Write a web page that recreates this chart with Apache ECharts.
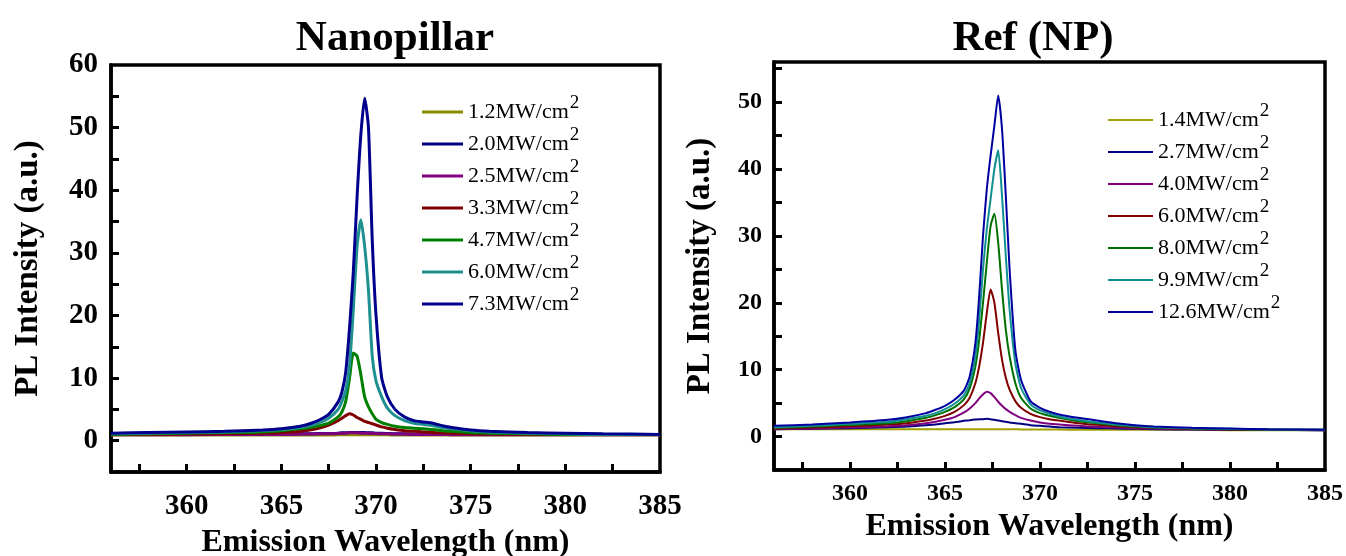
<!DOCTYPE html>
<html>
<head>
<meta charset="utf-8">
<title>PL spectra</title>
<script src="https://cdn.jsdelivr.net/npm/echarts@6.0.0/dist/echarts.min.js"></script>
<style>
  html, body { margin: 0; padding: 0; background: #fff; }
  #chart { width: 1346px; height: 556px; }
</style>
</head>
<body>
<div id="chart"></div>
<script>
// wavelengths (nm)
const npWl = [356, 358, 360, 362, 364, 365, 366, 366.5, 367, 367.5,
  368, 368.2, 368.4, 368.6, 368.8, 369.0, 369.2, 369.4, 369.6, 369.8,
  370.0, 370.3, 370.6, 371, 371.5, 372, 372.5, 373, 373.5, 374,
  375, 376, 378, 380, 382, 385];

// excitation power densities (MW/cm2)
const npPower = ['1.2', '2.0', '2.5', '3.3', '4.7', '6.0', '7.3'];

const np12 = [0.9, 0.9, 0.9, 0.9, 0.9, 0.9, 0.9, 0.9, 0.9, 0.9,
  0.95, 0.95, 0.95, 0.95, 0.95, 0.95, 0.95, 0.95, 0.95, 0.95,
  0.95, 0.95, 0.95, 0.9, 0.9, 0.9, 0.9, 0.9, 0.9, 0.9,
  0.9, 0.9, 0.9, 0.9, 0.9, 0.9];
const np20 = [1.0, 1.0, 1.0, 1.05, 1.05, 1.05, 1.1, 1.1, 1.15, 1.15,
  1.2, 1.25, 1.25, 1.3, 1.3, 1.3, 1.3, 1.3, 1.25, 1.25,
  1.2, 1.2, 1.15, 1.1, 1.1, 1.05, 1.05, 1.05, 1.0, 1.0,
  1.0, 1.0, 1.0, 1.0, 1.0, 1.0];
const np25 = [0.95, 0.95, 0.95, 1.0, 1.0, 1.0, 1.05, 1.05, 1.1, 1.1,
  1.15, 1.2, 1.2, 1.25, 1.25, 1.25, 1.2, 1.2, 1.2, 1.15,
  1.15, 1.1, 1.1, 1.05, 1.05, 1.0, 1.0, 1.0, 1.0, 0.95,
  0.95, 0.95, 0.95, 0.95, 0.95, 0.95];
const np33 = [1.0, 1.0, 1.05, 1.1, 1.2, 1.3, 1.5, 1.7, 2.0, 2.5,
  3.2, 3.6, 4.0, 4.3, 4.1, 3.7, 3.4, 3.1, 2.9, 2.7,
  2.5, 2.2, 2.0, 1.8, 1.6, 1.5, 1.4, 1.3, 1.25, 1.2,
  1.1, 1.05, 1.0, 1.0, 1.0, 1.0];
const np47 = [1.0, 1.1, 1.2, 1.3, 1.4, 1.6, 1.9, 2.1, 2.4, 2.8,
  3.8, 4.6, 6.3, 10, 14, 13.5, 10.5, 7, 5.4, 4.3,
  3.4, 2.9, 2.6, 2.3, 2.1, 2.0, 1.9, 1.8, 1.6, 1.5,
  1.3, 1.2, 1.1, 1.0, 1.0, 1.0];
const np60 = [1.1, 1.2, 1.3, 1.4, 1.6, 1.8, 2.1, 2.4, 2.9, 3.6,
  5, 6.3, 8, 12, 21, 31, 35.3, 31, 24, 13.5,
  9.5, 7, 5.2, 4.0, 3.2, 2.8, 2.6, 2.4, 2.1, 1.9,
  1.6, 1.4, 1.2, 1.1, 1.0, 1.0];
const np73 = [1.2, 1.3, 1.4, 1.5, 1.7, 1.9, 2.3, 2.7, 3.3, 4.2,
  6.2, 7.8, 11, 18, 27, 39, 49, 54.7, 50, 32,
  20, 10, 7, 5, 3.8, 3.2, 3.0, 2.8, 2.4, 2.1,
  1.7, 1.5, 1.3, 1.2, 1.1, 1.0];
const npSeries = [np12, np20, np25, np33, np47, np60, np73];

// wavelengths (nm)
const refWl = [356, 358, 360, 362, 363, 364, 364.5, 365, 365.5, 366,
  366.3, 366.6, 366.8, 367.0, 367.2, 367.4, 367.6, 367.8, 368.0, 368.2,
  368.4, 368.7, 369.0, 369.5, 370, 370.5, 371, 372, 373, 374,
  375, 376, 378, 380, 382, 385];

const refPower = ['1.4', '2.7', '4.0', '6.0', '8.0', '9.9', '12.6'];

const ref14 = [1.1, 1.1, 1.1, 1.1, 1.1, 1.1, 1.1, 1.1, 1.1, 1.1,
  1.1, 1.1, 1.1, 1.1, 1.1, 1.1, 1.1, 1.1, 1.1, 1.1,
  1.1, 1.1, 1.05, 1.05, 1.05, 1.05, 1.05, 1.0, 1.0, 1.0,
  1.0, 1.0, 1.0, 0.95, 0.95, 0.95];
const ref27 = [1.1, 1.15, 1.25, 1.4, 1.5, 1.7, 1.8, 2.0, 2.15, 2.35,
  2.45, 2.55, 2.6, 2.6, 2.65, 2.6, 2.5, 2.4, 2.3, 2.2,
  2.1, 2.0, 1.9, 1.7, 1.6, 1.5, 1.4, 1.3, 1.25, 1.2,
  1.15, 1.1, 1.05, 1.0, 1.0, 0.95];
const ref40 = [1.1, 1.2, 1.35, 1.55, 1.7, 2.0, 2.2, 2.5, 2.9, 3.6,
  4.2, 5.0, 5.7, 6.3, 6.7, 6.5, 5.9, 5.2, 4.6, 4.1,
  3.7, 3.2, 2.8, 2.4, 2.1, 1.9, 1.8, 1.6, 1.45, 1.35,
  1.25, 1.2, 1.1, 1.05, 1.0, 0.95];
const ref60 = [1.2, 1.35, 1.55, 1.8, 2.0, 2.4, 2.7, 3.1, 3.7, 4.7,
  5.8, 8, 10.5, 14, 18.5, 22, 20, 15.5, 11.5, 8.8,
  7, 5.3, 4.3, 3.4, 2.9, 2.6, 2.4, 2.0, 1.75, 1.55,
  1.4, 1.3, 1.15, 1.05, 1.0, 1.0];
const ref80 = [1.3, 1.5, 1.75, 2.0, 2.3, 2.8, 3.2, 3.7, 4.4, 5.6,
  7.2, 10.5, 14.5, 20, 26, 31.5, 33.3, 29, 22, 16,
  12, 8, 5.8, 4.2, 3.5, 3.1, 2.8, 2.3, 2.0, 1.7,
  1.5, 1.35, 1.2, 1.1, 1.05, 1.0];
const ref99 = [1.4, 1.6, 1.9, 2.2, 2.6, 3.1, 3.5, 4.1, 4.9, 6.2,
  8, 12, 17.5, 25, 31, 35.5, 40, 42.8, 36, 27,
  19, 11, 7.3, 4.8, 3.9, 3.4, 3.0, 2.5, 2.1, 1.8,
  1.6, 1.4, 1.25, 1.15, 1.05, 1.0];
const ref126 = [1.6, 1.8, 2.1, 2.5, 2.9, 3.5, 4.0, 4.6, 5.5, 6.9,
  9, 14, 21, 30, 37, 42, 46.5, 51, 46, 36,
  25, 13, 8.5, 5.3, 4.3, 3.7, 3.3, 2.8, 2.4, 2.0,
  1.7, 1.5, 1.3, 1.2, 1.1, 1.0];
const refSeries = [ref14, ref27, ref40, ref60, ref80, ref99, ref126];

// axis ticks and labels
const xLabels = [360, 365, 370, 375, 380, 385];
const xTicks = [357.5, 360, 362.5, 365, 367.5, 370, 372.5, 375, 377.5, 380, 382.5];
const npYLabels = [0, 10, 20, 30, 40, 50, 60];
const npYTicks = [0, 5, 10, 15, 20, 25, 30, 35, 40, 45, 50, 55];
const refYLabels = [0, 10, 20, 30, 40, 50];
const refYTicks = [0, 5, 10, 15, 20, 25, 30, 35, 40, 45, 50, 55];

const npColors = ['#8a8a00', '#000080', '#800080', '#800000', '#008000', '#1e9090', '#00008c'];
const refColors = ['#a0a000', '#000080', '#800080', '#800000', '#007000', '#109090', '#0000a0'];

const FONT = '"Liberation Serif", "Times New Roman", serif';

function pairs(xs, ys) {
  return xs.map((x, i) => [x, ys[i]]);
}

let series = [];
npSeries.forEach((vals, i) => {
  series.push({
    name: 'Nanopillar ' + npPower[i],
    type: 'line',
    xAxisIndex: 0,
    yAxisIndex: 0,
    symbol: 'none',
    smooth: 0.2,
    color: npColors[i],
    lineStyle: { width: 3 },
    data: pairs(npWl, vals)
  });
});
refSeries.forEach((vals, i) => {
  series.push({
    name: 'Ref ' + refPower[i],
    type: 'line',
    xAxisIndex: 1,
    yAxisIndex: 1,
    symbol: 'none',
    smooth: 0.2,
    color: refColors[i],
    lineStyle: { width: 2 },
    data: pairs(refWl, vals)
  });
});

const legendRich = {
  b: { fontSize: 22, fontFamily: FONT, color: '#000', lineHeight: 40, verticalAlign: 'middle' },
  s: { fontSize: 19, fontFamily: FONT, color: '#000', lineHeight: 19, verticalAlign: 'top', padding: [2, 0, 0, 1] }
};
const legendFmt = (n) => '{b|' + n.split(' ')[1] + 'MW/cm}{s|2}';

function xAxisOf(idx, fontSize, margin, nameGap) {
  return {
    gridIndex: idx,
    type: 'value',
    min: 356,
    max: 385,
    axisLine: { show: true, onZero: false, lineStyle: { color: '#000', width: 3.5 } },
    splitLine: { show: false },
    axisTick: { inside: true, length: 8, lineStyle: { width: 3, color: '#000' }, customValues: xTicks },
    axisLabel: { customValues: xLabels, fontSize: fontSize, fontWeight: 'bold', fontFamily: FONT, color: '#000', margin: margin },
    name: 'Emission Wavelength (nm)',
    nameLocation: 'middle',
    nameGap: nameGap,
    nameTextStyle: { fontSize: 32, fontWeight: 'bold', fontFamily: FONT, color: '#000' }
  };
}

function yAxisOf(idx, max, labels, ticks, fontSize, margin, nameGap) {
  return {
    gridIndex: idx,
    type: 'value',
    min: -5,
    max: max,
    axisLine: { show: true, onZero: false, lineStyle: { color: '#000', width: 3.5 } },
    splitLine: { show: false },
    axisTick: { inside: true, length: 8, lineStyle: { width: 3, color: '#000' }, customValues: ticks },
    axisLabel: { customValues: labels, fontSize: fontSize, fontWeight: 'bold', fontFamily: FONT, color: '#000', margin: margin },
    name: 'PL Intensity (a.u.)',
    nameLocation: 'middle',
    nameGap: nameGap,
    nameTextStyle: { fontSize: 33, fontWeight: 'bold', fontFamily: FONT, color: '#000' }
  };
}

const chart = echarts.init(document.getElementById('chart'));
chart.setOption({
  animation: false,
  backgroundColor: '#fff',
  title: [
    { text: 'Nanopillar', left: 390, top: 12, textAlign: 'center',
      textStyle: { fontSize: 43, fontWeight: 'bold', fontFamily: FONT, color: '#000' } },
    { text: 'Ref (NP)', left: 1028, top: 12, textAlign: 'center',
      textStyle: { fontSize: 43, fontWeight: 'bold', fontFamily: FONT, color: '#000' } }
  ],
  grid: [
    { left: 111, top: 65, width: 549, height: 407, outerBoundsMode: 'none', containLabel: false,
      show: true, borderColor: '#000', borderWidth: 3.5, backgroundColor: 'transparent' },
    { left: 774, top: 62, width: 551, height: 408, outerBoundsMode: 'none', containLabel: false,
      show: true, borderColor: '#000', borderWidth: 3.5, backgroundColor: 'transparent' }
  ],
  xAxis: [xAxisOf(0, 29, 20, 55), xAxisOf(1, 24, 12, 39)],
  yAxis: [
    yAxisOf(0, 60, npYLabels, npYTicks, 29, 13, 66),
    yAxisOf(1, 56, refYLabels, refYTicks, 24, 12, 57)
  ],
  legend: [
    { data: npPower.map(p => 'Nanopillar ' + p), orient: 'vertical', left: 422, top: 92, padding: 0,
      icon: 'rect', itemWidth: 41, itemHeight: 3, itemGap: 1, formatter: legendFmt,
      textStyle: { fontFamily: FONT, color: '#000', rich: legendRich } },
    { data: refPower.map(p => 'Ref ' + p), orient: 'vertical', left: 1108, top: 100, padding: 0,
      icon: 'rect', itemWidth: 45, itemHeight: 2, itemGap: 1, formatter: legendFmt,
      textStyle: { fontFamily: FONT, color: '#000', rich: legendRich } }
  ],
  series: series
});
</script>
</body>
</html>
